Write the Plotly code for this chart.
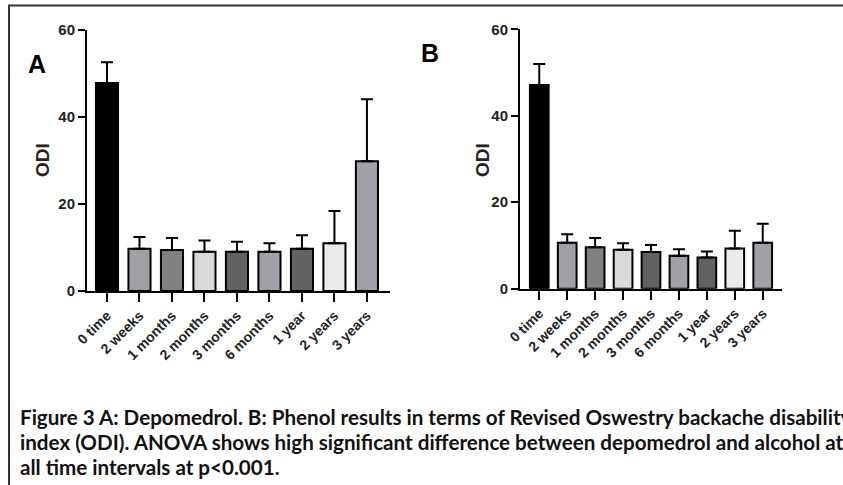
import plotly.graph_objects as go

categories = ["0 time", "2 weeks", "1 months", "2 months", "3 months",
              "6 months", "1 year", "2 years", "3 years"]
values_A = [47.8, 9.7, 9.4, 9.0, 9.0, 9.0, 9.7, 11.0, 29.8]
upper_A = [52.6, 12.4, 12.2, 11.6, 11.3, 11.0, 12.8, 18.4, 44.1]
values_B = [47.1, 10.6, 9.6, 9.0, 8.5, 7.6, 7.2, 9.3, 10.6]
upper_B = [52.0, 12.6, 11.7, 10.5, 10.1, 9.1, 8.6, 13.4, 15.0]
bar_colors = ["#000000", "#a0a0a6", "#808080", "#d9d9d9", "#626262",
              "#a0a0a6", "#626262", "#ebebeb", "#a0a0a6"]
y_ticks = [0, 20, 40, 60]

W, H = 843, 485
def px(x):
    return x / W
def py(y):
    return 1 - y / H

fig = go.Figure()

for vals, upper, xa, ya, bw in [(values_A, upper_A, "x", "y", 0.68),
                                (values_B, upper_B, "x2", "y2", 0.67)]:
    fig.add_trace(go.Bar(
        x=categories, y=vals, xaxis=xa, yaxis=ya, width=bw,
        marker=dict(color=bar_colors, line=dict(color="black", width=2)),
        error_y=dict(type="data", symmetric=False,
                     array=[u - v for u, v in zip(upper, vals)],
                     arrayminus=[0] * len(vals),
                     color="black", thickness=2, width=6),
        showlegend=False,
    ))

tickfont = dict(family="Liberation Sans", size=14, color="#222222", weight="bold")
ytickfont = dict(family="Liberation Sans", size=15, color="#222222", weight="bold")
xcommon = dict(type="category", showline=True, linecolor="black", linewidth=2,
               ticks="outside", ticklen=9, tickwidth=2, tickcolor="black",
               tickangle=-45, tickfont=tickfont, showgrid=False, zeroline=False,
               automargin=False)
ycommon = dict(range=[0, 60], tickvals=y_ticks, showline=True, linecolor="black",
               linewidth=2, ticks="outside", ticklen=7, tickwidth=2,
               tickcolor="black", tickfont=ytickfont, showgrid=False,
               zeroline=False, automargin=False)

fig.update_layout(
    template="none",
    width=W, height=H, margin=dict(l=0, r=0, t=0, b=0, pad=0, autoexpand=False),
    paper_bgcolor="white", plot_bgcolor="white",
    xaxis=dict(domain=[px(87), px(390)], range=[-0.615, 8.71], anchor="y", **xcommon),
    yaxis=dict(domain=[py(291), py(30)], anchor="x", **ycommon),
    xaxis2=dict(domain=[px(520), px(782)], range=[-0.69, 8.69], anchor="y2", **xcommon),
    yaxis2=dict(domain=[py(288.7), py(29.3)], anchor="x2", **ycommon),
    bargap=0.3,
)

for text, xc, yc in [("A", 37, 64), ("B", 430, 53)]:
    fig.add_annotation(text=text, x=px(xc), y=py(yc), xref="paper", yref="paper",
                       showarrow=False, xanchor="center", yanchor="middle",
                       font=dict(family="Liberation Sans", size=25,
                                 color="black", weight="bold"))
for xc in [43, 483]:
    fig.add_annotation(text="ODI", x=px(xc), y=py(160), xref="paper", yref="paper",
                       showarrow=False, textangle=-90, xanchor="center",
                       yanchor="middle",
                       font=dict(family="Liberation Sans", size=19,
                                 color="#222222", weight="bold"))

caption = [
    "Figure 3 A: Depomedrol. B: Phenol results in terms of Revised Oswestry backache disability",
    "index (ODI). ANOVA shows high significant difference between depomedrol and alcohol at",
    "all time intervals at p<0.001.",
]
for i, line in enumerate(caption):
    fig.add_annotation(text=line, x=px(18), y=py(417 + 25 * i), xref="paper",
                       yref="paper", showarrow=False, xanchor="left",
                       yanchor="middle",
                       font=dict(family="Lato", size=20.6, color="#111111",
                                 weight="bold"))

fig.add_shape(type="rect", xref="paper", yref="paper",
              x0=px(9), x1=px(W + 20), y0=py(H + 20), y1=py(5.5),
              line=dict(color="#333333", width=2))

fig.write_html("out.html", config={"displayModeBar": False},
               post_script="document.body.style.margin='0';document.body.style.overflow='hidden';")
